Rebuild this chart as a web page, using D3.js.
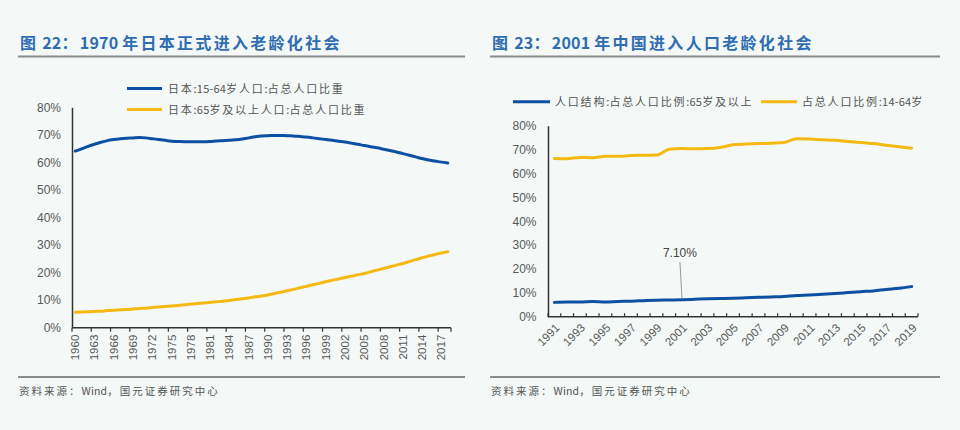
<!DOCTYPE html>
<html><head><meta charset="utf-8">
<script src="https://cdn.jsdelivr.net/npm/d3@7"></script>
<style>
html,body{margin:0;padding:0;background:#f4f8f6;}
svg{display:block;}
</style></head>
<body>
<svg id="chart" width="960" height="430"></svg>
<script>
// ---------- data ----------
const jpYears = d3.range(1960, 2019).map(String);
const jpWorking = [64.1,64.9,65.8,66.6,67.3,67.9,68.3,68.6,68.8,68.9,69.0,68.9,68.6,68.3,68.0,67.7,67.6,67.5,67.5,67.5,67.5,67.6,67.8,67.9,68.0,68.2,68.5,68.9,69.3,69.6,69.7,69.8,69.8,69.7,69.6,69.4,69.2,68.9,68.6,68.3,68.0,67.7,67.4,67.0,66.6,66.1,65.7,65.3,64.8,64.3,63.8,63.2,62.6,62.0,61.4,60.9,60.5,60.1,59.8];
const jpElderly = [5.6,5.7,5.8,5.9,6.0,6.2,6.3,6.5,6.6,6.8,7.0,7.1,7.3,7.5,7.7,7.9,8.1,8.3,8.6,8.8,9.0,9.2,9.4,9.6,9.9,10.2,10.5,10.8,11.2,11.5,11.9,12.4,12.9,13.4,13.9,14.5,15.0,15.6,16.1,16.7,17.2,17.7,18.2,18.7,19.2,19.7,20.3,20.9,21.5,22.1,22.7,23.3,24.0,24.7,25.4,26.0,26.6,27.1,27.6];
const jpLegend = ["日本:15-64岁人口:占总人口比重","日本:65岁及以上人口:占总人口比重"];

const cnYears = d3.range(1991, 2020).map(String);
const cnElderly = [6.0,6.2,6.2,6.4,6.2,6.4,6.5,6.7,6.9,7.0,7.1,7.3,7.5,7.6,7.7,7.9,8.1,8.3,8.5,8.9,9.1,9.4,9.7,10.1,10.5,10.8,11.4,11.9,12.6];
const cnWorking = [66.3,66.2,66.7,66.6,67.2,67.2,67.5,67.6,67.7,70.1,70.4,70.3,70.4,70.9,72.0,72.3,72.5,72.7,73.0,74.5,74.4,74.1,73.9,73.4,73.0,72.5,71.8,71.2,70.6];
const cnLegend = ["人口结构:占总人口比例:65岁及以上","占总人口比例:14-64岁"];
const cnNoteYear = "2001";
const cnNoteText = "7.10%";

const yTicks = [0,10,20,30,40,50,60,70,80];
const titles = ["图 22：1970 年日本正式进入老龄化社会","图 23：2001 年中国进入人口老龄化社会"];
const sourceText = "资料来源：Wind，国元证券研究中心";

// ---------- style ----------
const BLUE = "#0c50a3", YELLOW = "#f6b912", AXIS = "#333", TXT = "#595959";
const CJK = "'Noto Sans CJK SC','Noto Sans',sans-serif";
const LAT = "'Liberation Sans',Arial,sans-serif";

const svg = d3.select("#chart");

// text with letter-spacing only on CJK runs
function spacedText(sel, str, cjkSpacing){
  const runs = str.match(/[\u3000-\u9fff\uff00-\uffef]+|[^\u3000-\u9fff\uff00-\uffef]+/g);
  runs.forEach(r => {
    const isCjk = /[\u3000-\u9fff\uff00-\uffef]/.test(r);
    sel.append("tspan").attr("letter-spacing", isCjk ? cjkSpacing : 0.2).text(r);
  });
  return sel;
}

function header(x0, x1, title){
  const t = svg.append("text").attr("x", x0+2).attr("y", 49)
    .attr("font-family", CJK).attr("font-weight", "bold").attr("font-size", 16)
    .attr("fill", "#2f6db3");
  spacedText(t, title, 2.3);
  svg.append("line").attr("x1", x0).attr("x2", x1).attr("y1", 56.5).attr("y2", 56.5)
    .attr("stroke", "#8a8a8a").attr("stroke-width", 2);
  svg.append("line").attr("x1", x0).attr("x2", x1).attr("y1", 377).attr("y2", 377)
    .attr("stroke", "#8a8a8a").attr("stroke-width", 2);
  const s = svg.append("text").attr("x", x0+1).attr("y", 395)
    .attr("font-family", CJK).attr("font-size", 10.5).attr("fill", "#555");
  spacedText(s, sourceText, 2);
}
header(18, 465, titles[0]);
header(490, 940, titles[1]);

function yAxis(g, y, xLeft, labelX){
  g.append("g").attr("transform", `translate(${xLeft},0)`)
    .call(d3.axisLeft(y).tickValues(yTicks).tickSize(0).tickFormat(d => d + "%"))
    .call(a => { a.select(".domain").attr("stroke", AXIS).attr("stroke-width", 1.5);
      a.selectAll("text").attr("x", labelX - xLeft).attr("font-family", LAT)
       .attr("font-size", 12).attr("fill", TXT); });
}

// ---------- left chart ----------
{
  const x = d3.scaleBand().domain(jpYears).range([72, 451]);
  const y = d3.scaleLinear().domain([0, 80]).range([327.7, 107.3]);
  const g = svg.append("g");
  yAxis(g, y, 72, 61);
  const tickYears = jpYears.filter((d, i) => i % 3 === 0);
  const xa = g.append("g").attr("transform", `translate(0,${y(0)})`);
  xa.append("line").attr("x1", 72).attr("x2", 451).attr("stroke", AXIS).attr("stroke-width", 1.5);
  xa.selectAll("line.tk").data(tickYears.concat(["end"])).join("line").attr("class", "tk")
    .attr("x1", d => d === "end" ? 451 : x(d)).attr("x2", d => d === "end" ? 451 : x(d))
    .attr("y1", 0).attr("y2", 4).attr("stroke", AXIS).attr("stroke-width", 1.2);
  xa.selectAll("text").data(tickYears).join("text")
    .attr("transform", d => `translate(${x(d) + x.bandwidth()/2 + 4},7) rotate(-90)`)
    .attr("text-anchor", "end").attr("font-family", LAT).attr("font-size", 11.5).attr("fill", TXT)
    .text(d => d);

  const line = vals => d3.line().x((d, i) => x(jpYears[i]) + x.bandwidth()/2).y(d => y(d)).curve(d3.curveMonotoneX)(vals);
  g.append("path").attr("d", line(jpWorking)).attr("fill", "none").attr("stroke", BLUE).attr("stroke-width", 3).attr("stroke-linecap", "round");
  g.append("path").attr("d", line(jpElderly)).attr("fill", "none").attr("stroke", YELLOW).attr("stroke-width", 3).attr("stroke-linecap", "round");

  const lg = [[BLUE, jpLegend[0], 88.5], [YELLOW, jpLegend[1], 109.5]];
  lg.forEach(([c, t, yy]) => {
    g.append("line").attr("x1", 127).attr("x2", 162).attr("y1", yy).attr("y2", yy).attr("stroke", c).attr("stroke-width", 3);
    const tx = g.append("text").attr("x", 168).attr("y", yy + 4).attr("font-family", CJK).attr("font-size", 11)
      .attr("fill", "#555");
    spacedText(tx, t, 1.8);
  });
}

// ---------- right chart ----------
{
  const x = d3.scaleBand().domain(cnYears).range([548, 918]);
  const y = d3.scaleLinear().domain([0, 80]).range([316.7, 125.7]);
  const g = svg.append("g");
  yAxis(g, y, 548, 536.5);
  const xa = g.append("g").attr("transform", `translate(0,${y(0)})`);
  xa.append("line").attr("x1", 548).attr("x2", 918).attr("stroke", AXIS).attr("stroke-width", 1.5);
  xa.selectAll("line.tk").data(cnYears.concat(["end"])).join("line").attr("class", "tk")
    .attr("x1", d => d === "end" ? 918 : x(d)).attr("x2", d => d === "end" ? 918 : x(d))
    .attr("y1", -3.5).attr("y2", 0).attr("stroke", AXIS).attr("stroke-width", 1.2);
  const labYears = cnYears.filter((d, i) => i % 2 === 0);
  xa.selectAll("text").data(labYears).join("text")
    .attr("transform", d => `translate(${x(d) + x.bandwidth()/2 + 3},${9}) rotate(-45)`)
    .attr("text-anchor", "end").attr("dy", "0.35em").attr("font-family", LAT).attr("font-size", 11.5).attr("fill", TXT)
    .text(d => d);

  const line = vals => d3.line().x((d, i) => x(cnYears[i]) + x.bandwidth()/2).y(d => y(d)).curve(d3.curveMonotoneX)(vals);
  g.append("path").attr("d", line(cnWorking)).attr("fill", "none").attr("stroke", YELLOW).attr("stroke-width", 3).attr("stroke-linecap", "round");
  g.append("path").attr("d", line(cnElderly)).attr("fill", "none").attr("stroke", BLUE).attr("stroke-width", 3).attr("stroke-linecap", "round");

  // annotation
  const ni = cnYears.indexOf(cnNoteYear);
  const nx = x(cnNoteYear) + x.bandwidth()/2;
  g.append("line").attr("x1", nx - 2).attr("y1", 262).attr("x2", nx).attr("y2", y(cnElderly[ni]) - 1.5)
    .attr("stroke", "#999").attr("stroke-width", 1);
  g.append("text").attr("x", nx - 2).attr("y", 257).attr("text-anchor", "middle")
    .attr("font-family", LAT).attr("font-size", 12).attr("fill", "#444").text(cnNoteText);

  const lg = [[BLUE, cnLegend[0], 513, 550, 555], [YELLOW, cnLegend[1], 761, 797, 802]];
  lg.forEach(([c, t, x1, x2, tx]) => {
    g.append("line").attr("x1", x1).attr("x2", x2).attr("y1", 101.7).attr("y2", 101.7).attr("stroke", c).attr("stroke-width", 3);
    const te = g.append("text").attr("x", tx).attr("y", 105.5).attr("font-family", CJK).attr("font-size", 11)
      .attr("fill", "#555");
    spacedText(te, t, 1.8);
  });
}
</script>
</body></html>
